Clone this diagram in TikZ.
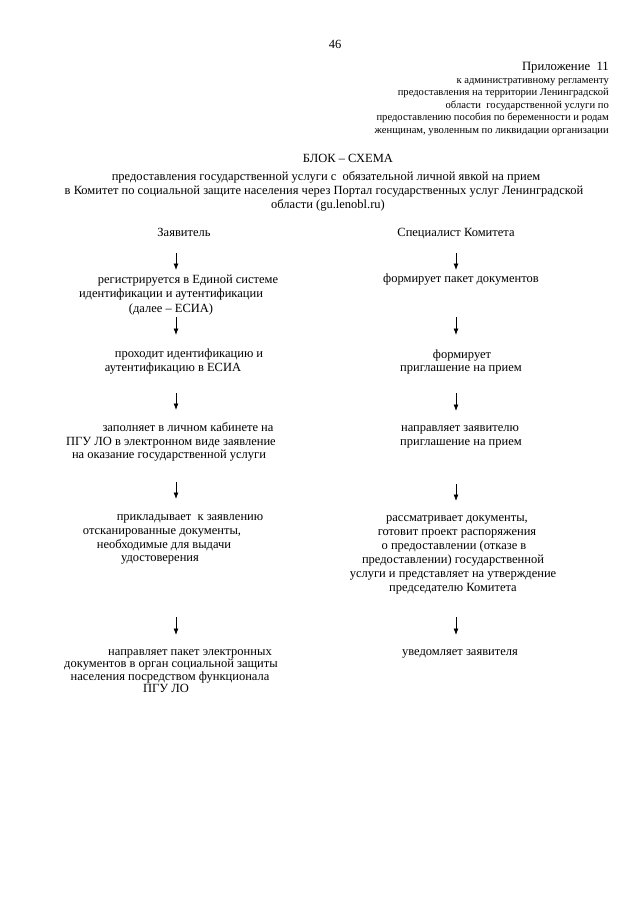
\documentclass[tikz,border=0pt]{standalone}
\usepackage{fontspec}
\setmainfont{Liberation Serif}
\usetikzlibrary{arrows.meta}
\tikzset{
  txt/.style={inner sep=0pt, text height=8.5pt, text depth=2.5pt, font=\fontsize{12.5}{14}\selectfont},
  smalltxt/.style={inner sep=0pt, text height=7.5pt, text depth=2pt, anchor=east, font=\fontsize{10.6}{12}\selectfont},
  arr/.style={-{Latex[length=6.5pt,width=5pt]}, line width=0.8pt},
}
\begin{document}
\begin{tikzpicture}[x=1pt,y=-1pt]
\path[use as bounding box, fill=white] (0,0) rectangle (640,905);
% header
\node[txt] (pg) at (335,45) {46};
\node[txt, anchor=east, font=\fontsize{12.7}{14}\selectfont] (app) at (609,67) {Приложение\ \ 11};
\node[smalltxt] (h1) at (609,80.5) {к административному регламенту};
\node[smalltxt] (h2) at (609,93) {предоставления на территории Ленинградской};
\node[smalltxt] (h3) at (609,105.5) {области\ \ государственной услуги по};
\node[smalltxt] (h4) at (609,118) {предоставлению пособия по беременности и родам};
\node[smalltxt] (h5) at (609,130.5) {женщинам, уволенным по ликвидации организации};
% title
\node[txt] (t1) at (348,159) {БЛОК – СХЕМА};
\node[txt] (t2) at (326,177) {предоставления государственной услуги с\ \ обязательной личной явкой на прием};
\node[txt] (t3) at (324,191) {в Комитет по социальной защите населения через Портал государственных услуг Ленинградской};
\node[txt] (t4) at (328,205) {области (gu.lenobl.ru)};
% column heads
\node[txt] (cl) at (184,233) {Заявитель};
\node[txt] (cr) at (456,233) {Специалист Комитета};
% left column
\node[txt] (l1a) at (188,280) {регистрируется в Единой системе};
\node[txt] (l1b) at (171,294) {идентификации и аутентификации};
\node[txt] (l1c) at (171,309) {(далее – ЕСИА)};
\node[txt] (l2a) at (189,354) {проходит идентификацию и};
\node[txt] (l2b) at (173,368) {аутентификацию в ЕСИА};
\node[txt] (l3a) at (188,428) {заполняет в личном кабинете на};
\node[txt] (l3b) at (171,442) {ПГУ ЛО в электронном виде заявление};
\node[txt] (l3c) at (169,455) {на оказание государственной услуги};
\node[txt] (l4a) at (190,517) {прикладывает\ \ к заявлению};
\node[txt] (l4b) at (162,531) {отсканированные документы,};
\node[txt] (l4c) at (164,545) {необходимые для выдачи};
\node[txt] (l4d) at (160,558) {удостоверения};
\node[txt] (l5a) at (190,652) {направляет пакет электронных};
\node[txt] (l5b) at (171,664.5) {документов в орган социальной защиты};
\node[txt] (l5c) at (170,677) {населения посредством функционала};
\node[txt] (l5d) at (166,689.5) {ПГУ ЛО};
% right column
\node[txt] (r1) at (461,279) {формирует пакет документов};
\node[txt] (r2a) at (462,355) {формирует};
\node[txt] (r2b) at (461,368) {приглашение на прием};
\node[txt] (r3a) at (460,428) {направляет заявителю};
\node[txt] (r3b) at (461,442) {приглашение на прием};
\node[txt] (r4a) at (457,518) {рассматривает документы,};
\node[txt] (r4b) at (457,532) {готовит проект распоряжения};
\node[txt] (r4c) at (454,546) {о предоставлении (отказе в};
\node[txt] (r4d) at (453,560) {предоставлении) государственной};
\node[txt] (r4e) at (453,574) {услуги и представляет на утверждение};
\node[txt] (r4f) at (453,588) {председателю Комитета};
\node[txt] (r5) at (460,652) {уведомляет заявителя};
% arrow end points
\coordinate (la1s) at (176,253); \coordinate (la1e) at (176,270);
\coordinate (la2s) at (176,317); \coordinate (la2e) at (176,335);
\coordinate (la3s) at (176,393); \coordinate (la3e) at (176,410);
\coordinate (la4s) at (176,482); \coordinate (la4e) at (176,499);
\coordinate (la5s) at (176,617); \coordinate (la5e) at (176,635);
\coordinate (ra1s) at (456,253); \coordinate (ra1e) at (456,270);
\coordinate (ra2s) at (456,317); \coordinate (ra2e) at (456,335);
\coordinate (ra3s) at (456,393); \coordinate (ra3e) at (456,411);
\coordinate (ra4s) at (456,484); \coordinate (ra4e) at (456,501);
\coordinate (ra5s) at (456,617); \coordinate (ra5e) at (456,635);
\draw[arr] (la1s) -- (la1e);
\draw[arr] (la2s) -- (la2e);
\draw[arr] (la3s) -- (la3e);
\draw[arr] (la4s) -- (la4e);
\draw[arr] (la5s) -- (la5e);
\draw[arr] (ra1s) -- (ra1e);
\draw[arr] (ra2s) -- (ra2e);
\draw[arr] (ra3s) -- (ra3e);
\draw[arr] (ra4s) -- (ra4e);
\draw[arr] (ra5s) -- (ra5e);
\end{tikzpicture}
\end{document}
